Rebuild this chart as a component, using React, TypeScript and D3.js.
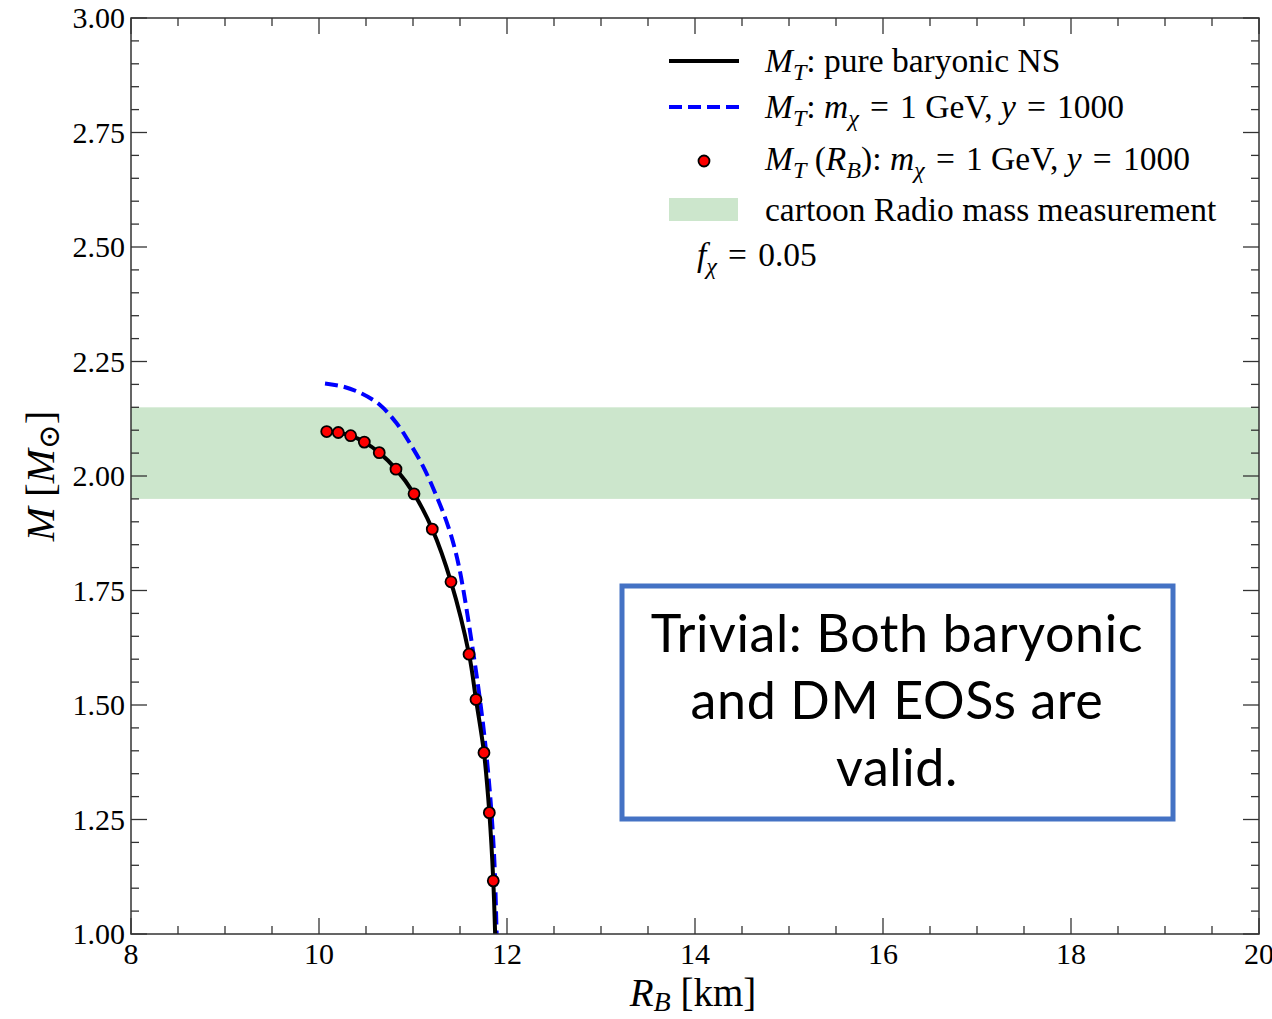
import React from "react";
import * as d3 from "d3";

const RB_DOTS = [10.082, 10.205, 10.337, 10.482, 10.641, 10.819, 11.011, 11.205, 11.404, 11.596, 11.67, 11.755, 11.812, 11.854];
const M_DOTS = [2.097, 2.095, 2.088, 2.074, 2.051, 2.015, 1.961, 1.884, 1.769, 1.611, 1.512, 1.396, 1.265, 1.116];
const RB_BARYON = [...RB_DOTS, 11.878];
const M_BARYON = [...M_DOTS, 0.97];
const RB_DM = [10.064, 10.259, 10.454, 10.649, 10.826, 10.968, 11.11, 11.252, 11.376, 11.482, 11.642, 11.748, 11.819, 11.865, 11.89, 11.895];
const M_DM = [2.202, 2.195, 2.18, 2.155, 2.115, 2.071, 2.02, 1.955, 1.889, 1.809, 1.613, 1.453, 1.307, 1.162, 1.0, 0.97];
const BAND = [1.95, 2.15];
const X_TICKS = [8, 10, 12, 14, 16, 18, 20];
const Y_TICKS = [1.0, 1.25, 1.5, 1.75, 2.0, 2.25, 2.5, 2.75, 3.0];
const BOX_LINES = ["Trivial: Both baryonic", "and DM EOSs are", "valid."];

const W = 1272, H = 1019;
const L = 131, R = 1259, T = 18, B = 934;
const SERIF = "'Liberation Serif', 'DejaVu Serif', serif";
const EQ = "\u2004=\u2004";

type Seg = [string, string];
function MathText({ x, y, segs, size, anchor = "start", subShift = 0.25 }: { x: number; y: number; segs: Seg[]; size: number; anchor?: string; subShift?: number }) {
  let cur = 0;
  const sub = size * subShift;
  return (
    <text x={x} y={y} fontFamily={SERIF} fontSize={size} textAnchor={anchor as any} fill="#000">
      {segs.map(([t, s], i) => {
        const isSub = s.startsWith("s");
        const target = isSub ? sub : 0;
        const dy = target - cur;
        cur = target;
        const big = s === "eq";
        return (
          <tspan key={i} dy={dy} fontStyle={s.endsWith("i") ? "italic" : "normal"} fontSize={isSub ? size * 0.72 : size}>
            {t}
          </tspan>
        );
      })}
    </text>
  );
}

export default function App() {
  const x = d3.scaleLinear().domain([8, 20]).range([L, R]);
  const y = d3.scaleLinear().domain([1, 3]).range([B, T]);
  const line = d3.line<[number, number]>().x(d => x(d[0])).y(d => y(d[1])).curve(d3.curveCatmullRom.alpha(0.5));
  const baryon = RB_BARYON.map((r, i) => [r, M_BARYON[i]] as [number, number]);
  const dm = RB_DM.map((r, i) => [r, M_DM[i]] as [number, number]);
  const xMinor = d3.range(8, 20.001, 0.5);
  const yMinor = d3.range(1, 3.0001, 0.05);
  const axisColor = "#333";
  const fs = 30;
  const lfs = 33.5;

  return (
    <svg width={W} height={H} style={{ position: "absolute", left: 0, top: 0, background: "#fff" }}>
      <defs>
        <clipPath id="plot">
          <rect x={L} y={T} width={R - L} height={B - T} />
        </clipPath>
      </defs>
      <rect x={0} y={0} width={W} height={H} fill="#fff" />
      <g clipPath="url(#plot)">
        <rect x={L} y={y(BAND[1])} width={R - L} height={y(BAND[0]) - y(BAND[1])} fill="#008000" fillOpacity={0.2} />
        <path d={line(dm) || ""} fill="none" stroke="#0000ff" strokeWidth={4} strokeDasharray="13 6" />
        <path d={line(baryon) || ""} fill="none" stroke="#000" strokeWidth={4} />
        {RB_DOTS.map((r, i) => (
          <circle key={i} cx={x(r)} cy={y(M_DOTS[i])} r={5.5} fill="#ff0000" stroke="#000" strokeWidth={1.8} />
        ))}
      </g>
      <rect x={L} y={T} width={R - L} height={B - T} fill="none" stroke={axisColor} strokeWidth={1.5} />
      {xMinor.map((v, i) => {
        const major = Math.abs(v / 2 - Math.round(v / 2)) < 1e-6;
        const len = major ? 16 : 8;
        return (
          <g key={"xt" + i} stroke={axisColor} strokeWidth={1.3}>
            <line x1={x(v)} x2={x(v)} y1={B} y2={B - len} />
            <line x1={x(v)} x2={x(v)} y1={T} y2={T + len} />
          </g>
        );
      })}
      {yMinor.map((v, i) => {
        const major = Math.abs(v / 0.25 - Math.round(v / 0.25)) < 1e-6;
        const len = major ? 16 : 8;
        return (
          <g key={"yt" + i} stroke={axisColor} strokeWidth={1.3}>
            <line x1={L} x2={L + len} y1={y(v)} y2={y(v)} />
            <line x1={R} x2={R - len} y1={y(v)} y2={y(v)} />
          </g>
        );
      })}
      {X_TICKS.map(v => (
        <text key={"xl" + v} x={x(v)} y={B + 30} fontFamily={SERIF} fontSize={fs} textAnchor="middle" fill="#000">
          {v}
        </text>
      ))}
      {Y_TICKS.map(v => (
        <text key={"yl" + v} x={L - 6} y={y(v) + 10} fontFamily={SERIF} fontSize={fs} textAnchor="end" fill="#000">
          {v.toFixed(2)}
        </text>
      ))}
      <MathText x={693} y={1006} size={39} anchor="middle" subShift={0.12} segs={[["R", "i"], ["B", "si"], [" [km]", "n"]]} />
      <g transform={`translate(54, ${(T + B) / 2}) rotate(-90)`}>
        <MathText x={0} y={0} size={41} anchor="middle" subShift={0.12} segs={[["M", "i"], [" [", "n"], ["M", "i"], ["⊙", "sn"], ["]", "n"]]} />
      </g>
      {/* legend */}
      <line x1={669} x2={739} y1={61} y2={61} stroke="#000" strokeWidth={4} />
      <MathText x={765} y={72} size={lfs} segs={[["M", "i"], ["T", "si"], [": pure baryonic NS", "n"]]} />
      <line x1={669} x2={739} y1={107} y2={107} stroke="#0000ff" strokeWidth={4} strokeDasharray="13 6" />
      <MathText x={765} y={118} size={lfs} segs={[["M", "i"], ["T", "si"], [":  ", "n"], ["m", "i"], ["χ", "si"], [EQ + "1 GeV, ", "n"], ["y", "i"], [EQ + "1000", "n"]]} />
      <circle cx={704} cy={161} r={5.5} fill="#ff0000" stroke="#000" strokeWidth={1.8} />
      <MathText x={765} y={170} size={lfs} segs={[["M", "i"], ["T", "si"], [" (", "n"], ["R", "i"], ["B", "si"], ["):  ", "n"], ["m", "i"], ["χ", "si"], [EQ + "1 GeV, ", "n"], ["y", "i"], [EQ + "1000", "n"]]} />
      <rect x={669} y={198} width={69} height={23} fill="#008000" fillOpacity={0.2} />
      <MathText x={765} y={221} size={lfs} segs={[["cartoon Radio mass measurement", "n"]]} />
      <MathText x={697} y={266} size={lfs} segs={[["f", "i"], ["χ", "si"], [EQ + "0.05", "n"]]} />
      {/* annotation box */}
      <rect x={622} y={586} width={551} height={233} fill="#fff" stroke="#4472C4" strokeWidth={5} />
      {BOX_LINES.map((t, i) => (
        <text key={"bl" + i} x={897} y={652 + i * 67} fontFamily="Lato, 'Open Sans', sans-serif" fontSize={52} letterSpacing={0.6} textAnchor="middle" fill="#000">
          {t}
        </text>
      ))}
    </svg>
  );
}
